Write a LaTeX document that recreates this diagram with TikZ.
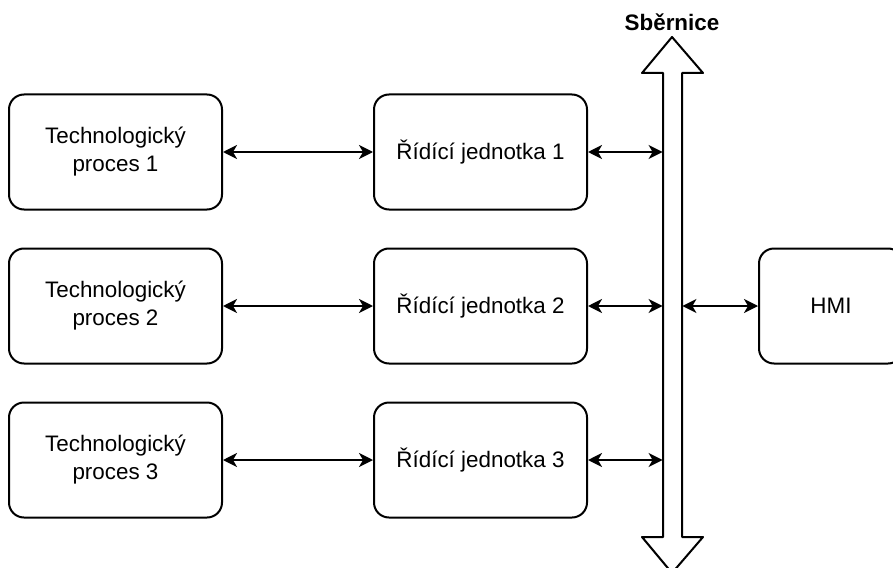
\documentclass[tikz,border=0pt]{standalone}
\usepackage{fontspec}
\setmainfont{Liberation Sans}
\usetikzlibrary{arrows.meta}
\begin{document}
\begin{tikzpicture}[x=0.5pt,y=-0.5pt,>={Stealth[length=7pt,width=7pt,inset=2pt]},
	line join=round, font=\fontsize{11.2}{14}\selectfont,
	box/.style={draw,line width=1pt,rounded corners=7.5pt,fill=white,align=center,
		minimum width=106.5pt,minimum height=57.5pt,inner sep=0pt},
	link/.style={<->,line width=1pt}]
	\useasboundingbox (0,0) rectangle (893,567);
	\def\xa{115.5} \def\xb{480.5} % stredy sloupcu
	\def\yl{663} \def\yr{682} % hrany sbernice
	% sbernice
	\draw[line width=1pt,fill=white] (672,37)--(703,73)--(\yr,73)--(\yr,537)--(703,537)--(672,573)
		--(642,537)--(\yl,537)--(\yl,73)--(642,73)--cycle;
	\node[font=\fontsize{11.2}{14}\selectfont\bfseries] (bustxt) at (672,22) {Sběrnice};
	\node[inner sep=0pt,minimum width=9.5pt,minimum height=232pt] (bus) at (672.5,305) {};
	% bloky
	\foreach \i/\y in {1/152,2/306,3/460}{
		\node[box] (tp\i) at (\xa,\y) {Technologický\\proces \i};
		\node[box] (rj\i) at (\xb,\y) {Řídící jednotka \i};
		\draw[link] (tp\i.east)--(rj\i.west);
		\draw[link] (rj\i.east)--(rj\i.east-|bus.west);
	}
	\node[box,minimum width=72pt] (hmi) at (831,306) {HMI};
	\draw[link] (hmi.west-|bus.east)--(hmi.west);
\end{tikzpicture}
\end{document}
